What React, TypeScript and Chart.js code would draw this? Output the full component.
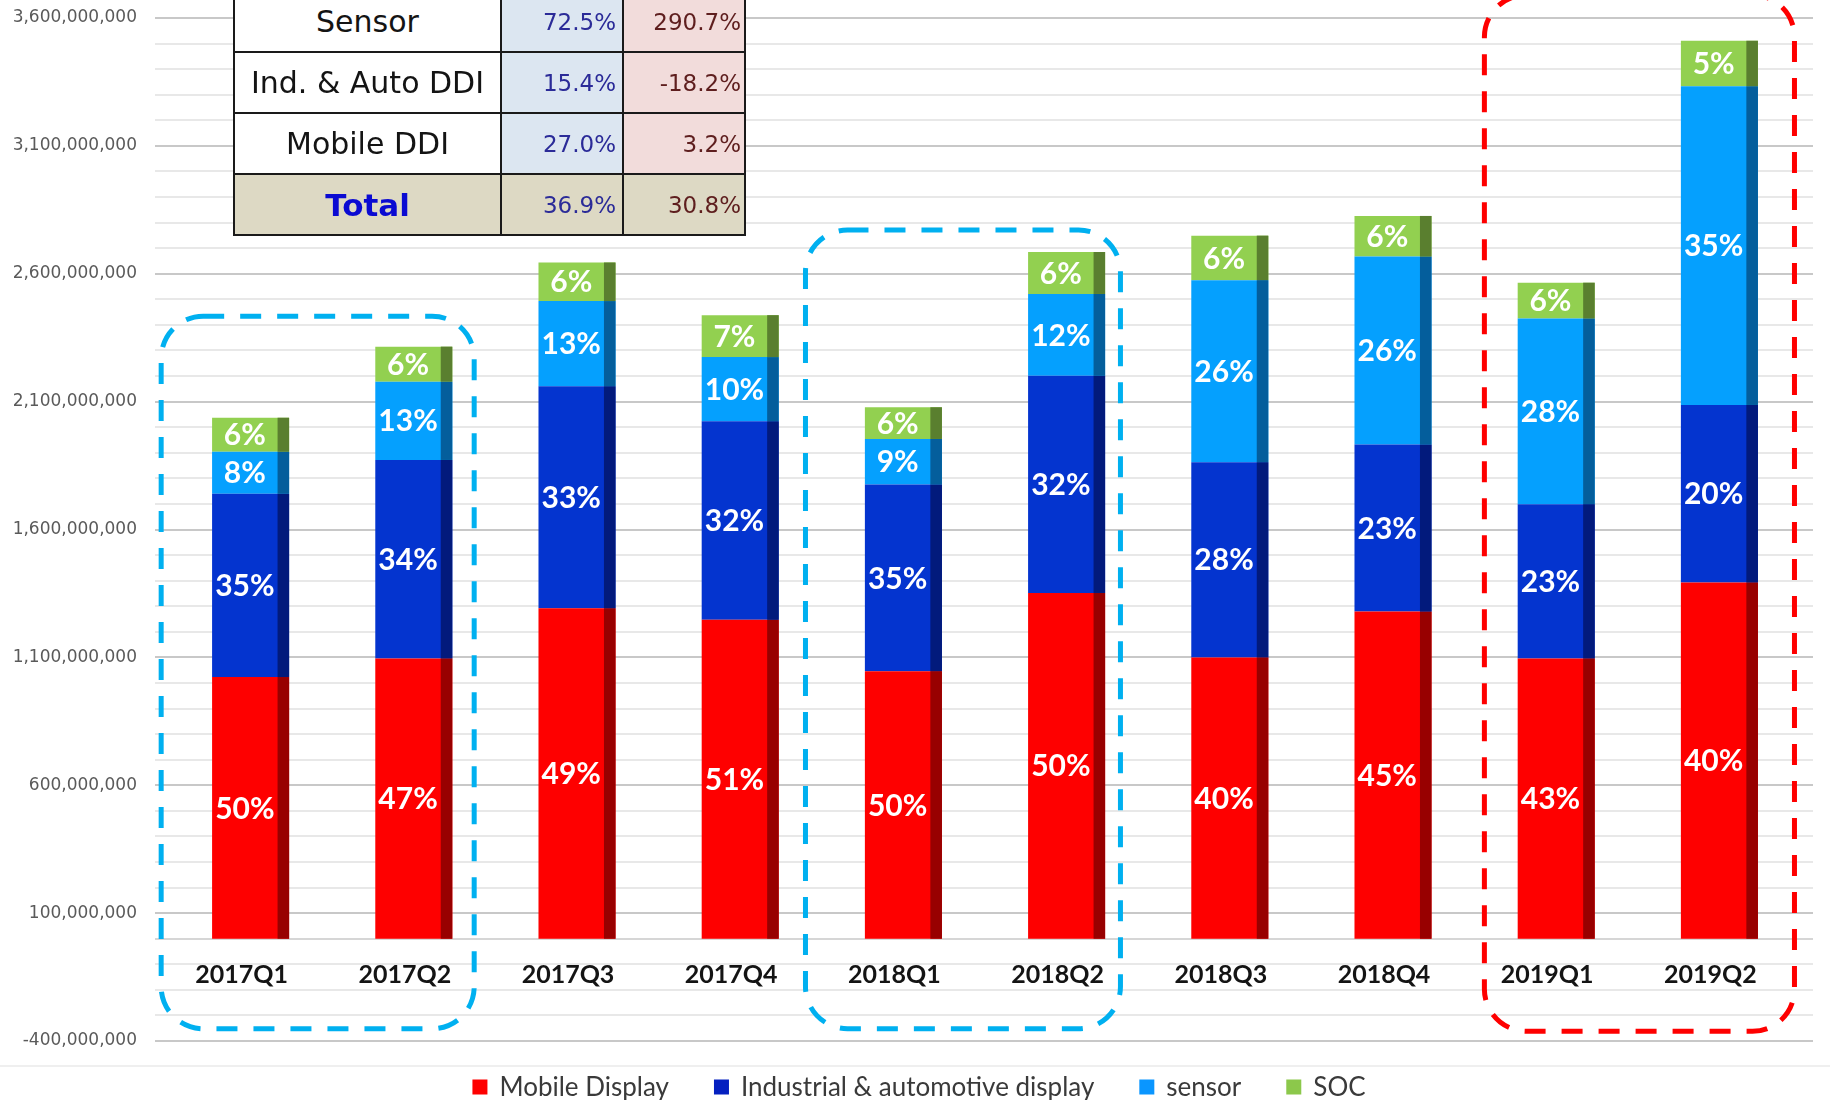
import React, { useEffect, useRef } from 'react';
import { Chart, registerables } from 'chart.js';

Chart.register(...registerables);

// ---------- data ----------
const categories = ['2017Q1', '2017Q2', '2017Q3', '2017Q4', '2018Q1', '2018Q2', '2018Q3', '2018Q4', '2019Q1', '2019Q2'];

const mobileDisplay = [1023000000, 1096000000, 1292000000, 1247000000, 1046000000, 1352000000, 1100000000, 1279000000, 1096000000, 1393000000];
const industrialDisplay = [717000000, 776000000, 868000000, 776000000, 730000000, 849000000, 763000000, 653000000, 603000000, 694000000];
const sensorValues = [164000000, 306000000, 333000000, 251000000, 178000000, 320000000, 712000000, 735000000, 726000000, 1246000000];
const socValues = [133000000, 137000000, 151000000, 164000000, 124000000, 164000000, 174000000, 159000000, 140000000, 178000000];

const mobilePct = ['50%', '47%', '49%', '51%', '50%', '50%', '40%', '45%', '43%', '40%'];
const industrialPct = ['35%', '34%', '33%', '32%', '35%', '32%', '28%', '23%', '23%', '20%'];
const sensorPct = ['8%', '13%', '13%', '10%', '9%', '12%', '26%', '26%', '28%', '35%'];
const socPct = ['6%', '6%', '6%', '7%', '6%', '6%', '6%', '6%', '6%', '5%'];

const seriesNames = ['Mobile Display', 'Industrial & automotive display', 'sensor', 'SOC'];
const seriesColors = ['#FE0000', '#0434CF', '#05A0FE', '#92D050'];
const sideColors = ['#980000', '#021A7C', '#045E9C', '#5A7F2F'];
const legendColors = ['#FE0000', '#0420C0', '#0A96FF', '#8CC84B'];

const yMin = -400000000;
const yMax = 3600000000;
const yStep = 100000000;
const yLabelEvery = 500000000;
const yLabelOffset = 100000000;

// table overlay
const tableRowLabels = ['Sensor', 'Ind. & Auto DDI', 'Mobile DDI', 'Total'];
const tableGrowthA = ['72.5%', '15.4%', '27.0%', '36.9%'];
const tableGrowthB = ['290.7%', '-18.2%', '3.2%', '30.8%'];

// highlight boxes (category index range, value range)
const highlightBoxes = [
  { from: -0.548, to: 1.37, top: 2434000000, bottom: -352000000, color: '#00B0F0' },
  { from: 3.4, to: 5.33, top: 2771000000, bottom: -352000000, color: '#00B0F0' },
  { from: 7.56, to: 9.46, top: 3690000000, bottom: -362000000, color: '#FE0000' },
];

const seriesValues = [mobileDisplay, industrialDisplay, sensorValues, socValues];
const seriesPct = [mobilePct, industrialPct, sensorPct, socPct];

// ---------- plugins ----------
const gridPlugin = {
  id: 'customGrid',
  beforeDraw(chart: any) {
    const { ctx, chartArea } = chart;
    const y = chart.scales.y;
    ctx.save();
    ctx.lineWidth = 2;
    y.ticks.forEach((t: any) => {
      const py = Math.round(y.getPixelForValue(t.value));
      const major = (t.value - yLabelOffset) % yLabelEvery === 0;
      ctx.strokeStyle = major ? '#C8C8C8' : t.value === 0 ? '#D6D6D6' : '#E8E8E8';
      ctx.beginPath();
      ctx.moveTo(chartArea.left - 14, py);
      ctx.lineTo(chartArea.right + 12, py);
      ctx.stroke();
    });
    // faint frame line under plot
    ctx.strokeStyle = '#EFEFEF';
    ctx.beginPath();
    ctx.moveTo(0, chartArea.bottom + 25);
    ctx.lineTo(chart.width, chartArea.bottom + 25);
    ctx.stroke();
    ctx.restore();
  },
};

const barDecorPlugin = {
  id: 'barDecor',
  afterDatasetsDraw(chart: any) {
    const { ctx } = chart;
    ctx.save();
    chart.data.datasets.forEach((ds: any, i: number) => {
      const meta = chart.getDatasetMeta(i);
      meta.data.forEach((el: any, j: number) => {
        const { x, y, base, width } = el.getProps(['x', 'y', 'base', 'width'], true);
        const stripW = width * 0.15;
        const top = Math.min(y, base);
        const h = Math.abs(base - y);
        ctx.fillStyle = sideColors[i];
        ctx.fillRect(x + width / 2 - stripW, top, stripW, h);
        ctx.fillStyle = '#FFFFFF';
        ctx.font = 'bold 30px Lato';
        ctx.textAlign = 'center';
        ctx.textBaseline = 'middle';
        ctx.fillText(seriesPct[i][j], x - stripW / 2, (y + base) / 2 + 1);
      });
    });
    ctx.restore();
  },
};

function roundedPath(ctx: any, x0: number, y0: number, x1: number, y1: number, r: number) {
  ctx.beginPath();
  ctx.moveTo(x0 + r, y0);
  ctx.lineTo(x1 - r, y0);
  ctx.arcTo(x1, y0, x1, y0 + r, r);
  ctx.lineTo(x1, y1 - r);
  ctx.arcTo(x1, y1, x1 - r, y1, r);
  ctx.lineTo(x0 + r, y1);
  ctx.arcTo(x0, y1, x0, y1 - r, r);
  ctx.lineTo(x0, y0 + r);
  ctx.arcTo(x0, y0, x0 + r, y0, r);
  ctx.closePath();
}

const overlayPlugin = {
  id: 'overlay',
  afterDraw(chart: any) {
    const { ctx, chartArea } = chart;
    const xs = chart.scales.x;
    const ys = chart.scales.y;
    ctx.save();
    highlightBoxes.forEach((b) => {
      const x0 = xs.getPixelForValue(b.from);
      const x1 = xs.getPixelForValue(b.to);
      const y0 = ys.getPixelForValue(b.top);
      const y1 = ys.getPixelForValue(b.bottom);
      ctx.strokeStyle = b.color;
      ctx.lineWidth = 5;
      ctx.setLineDash([21, 16]);
      roundedPath(ctx, x0, y0, x1, y1, 42);
      ctx.stroke();
    });
    ctx.setLineDash([]);

    // legend
    ctx.font = '26px Lato';
    ctx.textBaseline = 'middle';
    ctx.textAlign = 'left';
    const box = 15;
    const gapText = 12;
    const gapItem = 45;
    const widths = seriesNames.map((n) => ctx.measureText(n).width);
    const total = widths.reduce((a, w) => a + box + gapText + w, 0) + gapItem * (seriesNames.length - 1);
    let cx = (chart.width - total) / 2 + 4;
    const cy = chartArea.bottom + 46;
    seriesNames.forEach((n, i) => {
      ctx.fillStyle = legendColors[i];
      ctx.fillRect(cx, cy - box / 2, box, box);
      ctx.fillStyle = '#3A3A3A';
      ctx.fillText(n, cx + box + gapText, cy + 1);
      cx += box + gapText + widths[i] + gapItem;
    });
    ctx.restore();
  },
};

// ---------- component ----------
export default function App() {
  const ref = useRef<HTMLCanvasElement>(null);

  useEffect(() => {
    if (!ref.current) return;
    const chart = new Chart(ref.current, {
      type: 'bar',
      data: {
        labels: categories,
        datasets: seriesNames.map((name, i) => ({
          label: name,
          data: seriesValues[i],
          backgroundColor: seriesColors[i],
          borderWidth: 0,
          categoryPercentage: 1,
          barPercentage: 0.472,
        })),
      },
      options: {
        animation: false,
        responsive: false,
        devicePixelRatio: 1,
        layout: { padding: { left: 0, right: 29, top: 18, bottom: 59 } },
        plugins: {
          legend: { display: false },
          tooltip: { enabled: false },
        },
        scales: {
          x: {
            stacked: true,
            position: { y: 0 } as any,
            grid: { display: false, drawTicks: false },
            border: { display: false },
            ticks: {
              color: '#141414',
              font: { family: 'Lato', size: 25, weight: 'bold' },
              padding: 21,
              labelOffset: -9,
              maxRotation: 0,
              autoSkip: false,
            },
            afterFit: (s: any) => {
              s.height = 0;
            },
          },
          y: {
            stacked: true,
            min: yMin,
            max: yMax,
            grid: { display: false, drawTicks: true, tickLength: 32 },
            border: { display: false },
            ticks: {
              stepSize: yStep,
              autoSkip: false,
              padding: 0,
              color: '#5A5A5A',
              font: { family: 'DejaVu Sans', size: 17 },
              callback: (v: any) =>
                (Number(v) - yLabelOffset) % yLabelEvery === 0 ? Number(v).toLocaleString('en-US') : '',
            },
            afterFit: (s: any) => {
              s.width = 169;
            },
          },
        },
      },
      plugins: [gridPlugin, barDecorPlugin, overlayPlugin],
    });
    return () => chart.destroy();
  }, []);

  const cellBase: React.CSSProperties = {
    border: '2px solid #1A1A1A',
    padding: 0,
    verticalAlign: 'middle',
    whiteSpace: 'nowrap',
    overflow: 'hidden',
  };

  return (
    <div
      style={{
        position: 'fixed',
        left: 0,
        top: 0,
        width: 1830,
        height: 1100,
        overflow: 'hidden',
        background: '#FFFFFF',
      }}
    >
      <canvas
        ref={ref}
        width={1830}
        height={1100}
        style={{ position: 'absolute', left: 0, top: 0, width: 1830, height: 1100 }}
      />
      <table
        style={{
          position: 'absolute',
          left: 233,
          top: -10,
          width: 511,
          borderCollapse: 'collapse',
          tableLayout: 'fixed',
        }}
      >
        <colgroup>
          <col style={{ width: 267 }} />
          <col style={{ width: 122 }} />
          <col style={{ width: 122 }} />
        </colgroup>
        <tbody>
          {tableRowLabels.map((lab, i) => {
            const isTotal = i === tableRowLabels.length - 1;
            return (
              <tr key={lab} style={{ height: 61 }}>
                <td
                  style={{
                    ...cellBase,
                    background: isTotal ? '#DDD9C4' : '#FFFFFF',
                    textAlign: 'center',
                    fontFamily: '"DejaVu Sans"',
                    fontSize: isTotal ? 31 : 30,
                    fontWeight: isTotal ? 'bold' : 'normal',
                    color: isTotal ? '#0A0AD2' : '#141414',
                  }}
                >
                  {lab}
                </td>
                <td
                  style={{
                    ...cellBase,
                    background: isTotal ? '#DDD9C4' : '#DCE6F1',
                    textAlign: 'right',
                    paddingRight: 6,
                    fontFamily: '"DejaVu Sans"',
                    fontSize: 23,
                    color: '#2B2B98',
                  }}
                >
                  {tableGrowthA[i]}
                </td>
                <td
                  style={{
                    ...cellBase,
                    background: isTotal ? '#DDD9C4' : '#F2DCDB',
                    textAlign: 'right',
                    paddingRight: 3,
                    fontFamily: '"DejaVu Sans"',
                    fontSize: 23,
                    color: '#5E1E1E',
                  }}
                >
                  {tableGrowthB[i]}
                </td>
              </tr>
            );
          })}
        </tbody>
      </table>
    </div>
  );
}
